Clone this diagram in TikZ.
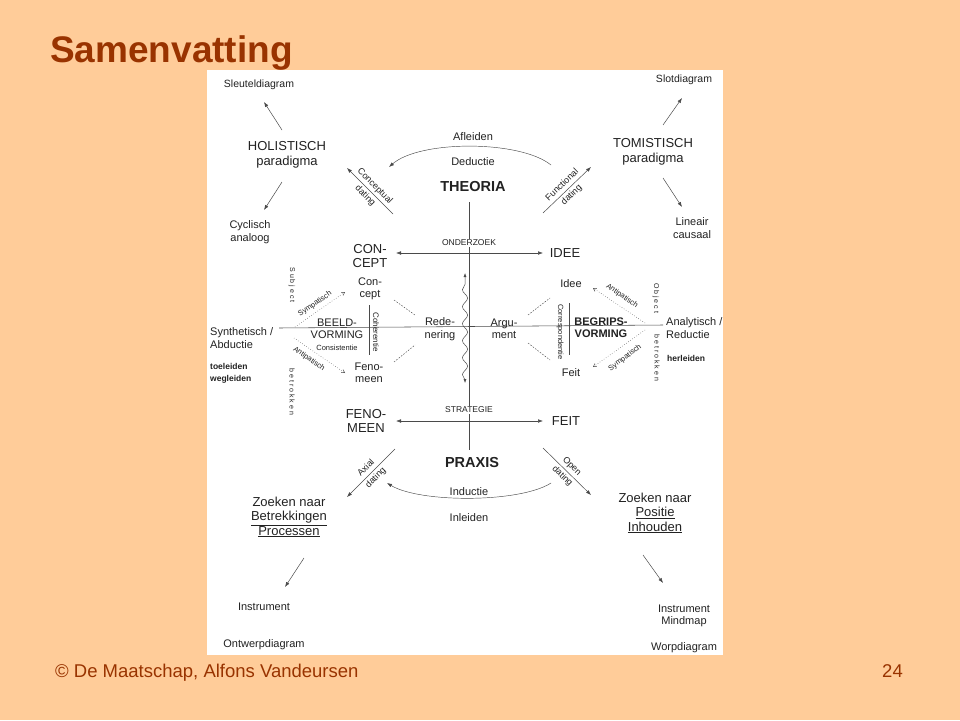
\documentclass[tikz,border=0pt]{standalone}
\usepackage{fontspec}
\setmainfont{Liberation Sans}
\usetikzlibrary{arrows.meta,decorations.pathmorphing}
\definecolor{slidebg}{HTML}{FFCC99}
\definecolor{titlecol}{HTML}{993300}
\definecolor{ink}{HTML}{222222}
\definecolor{lin}{HTML}{4A4A4A}
\newcommand\fsz[2]{\fontsize{#1}{#2}\selectfont}
\tikzset{
  t/.style={text=ink, align=center, inner sep=0pt, font=\fsz{11}{12.5}},
  tl/.style={text=ink, align=left, inner sep=0pt, font=\fsz{11}{12.5}},
  big/.style={t, font=\fsz{13}{14.5}},
  bold/.style={t, font=\bfseries\fsz{14.5}{16}},
  tiny/.style={t, font=\fsz{7.5}{9}},
  vert/.style={t, font=\fsz{7}{8}, rotate=-90},
  dlab/.style={t, font=\fsz{9}{13.5}, sloped},
  arr/.style={draw=lin, line width=0.5pt, -{Latex[length=5pt,width=3.6pt]}},
  darr/.style={draw=lin, line width=0.5pt, {Latex[length=5pt,width=3.6pt]}-{Latex[length=5pt,width=3.6pt]}},
  dotarr/.style={draw=lin, line width=0.5pt, dotted, -{Straight Barb[length=3pt,width=3.5pt]}},
  dashln/.style={draw=lin, line width=0.45pt, dash pattern=on 1.6pt off 1.4pt},
  plain/.style={draw=lin, line width=0.55pt},
}
\begin{document}
\begin{tikzpicture}[x=1pt,y=-1pt]
\fill[slidebg] (0,0) rectangle (960,720);
\useasboundingbox (0,0) rectangle (960,720);
% title and footer
\node[anchor=base west, inner sep=0pt, text=titlecol, font=\bfseries\fsz{37}{40}] (title) at (50,62) {Samenvatting};
\node[anchor=base west, inner sep=0pt, text=titlecol, font=\fsz{18.5}{20}] (foot) at (55,677) {© De Maatschap, Alfons Vandeursen};
\node[anchor=base east, inner sep=0pt, text=titlecol, font=\fsz{18.5}{20}] (pnum) at (903,677) {24};
% white sheet
\fill[white] (207,70) rectangle (723,655);
\begin{scope}
\clip (207,70) rectangle (723,655);
% ---------- top left
\node[t, font=\fsz{10.5}{12}] (sleutel) at (259,85) {Sleuteldiagram};
\node[big] (hol) at (287,155) {HOLISTISCH\\paradigma};
\node[t] (cyc) at (250,232) {Cyclisch\\analoog};
\coordinate (h1a) at (282,130); \coordinate (h1b) at (264,102);
\coordinate (h2a) at (282,182); \coordinate (h2b) at (264,210);
\draw[arr] (h1a) -- (h1b);
\draw[arr] (h2a) -- (h2b);
% ---------- top right
\node[t, font=\fsz{10.5}{12}] (slot) at (684,80) {Slotdiagram};
\node[big] (tom) at (653,152) {TOMISTISCH\\paradigma};
\node[t] (lin) at (692,228) {Lineair\\causaal};
\coordinate (t1a) at (663,125); \coordinate (t1b) at (682,98);
\coordinate (t2a) at (663,178); \coordinate (t2b) at (682,207);
\draw[arr] (t1a) -- (t1b);
\draw[arr] (t2a) -- (t2b);
% ---------- top arc
\node[t] (afl) at (473,137) {Afleiden};
\node[t] (ded) at (473,162) {Deductie};
\coordinate (arcTr) at (551,165); \coordinate (arcTl) at (389,167);
\draw[arr, line width=0.45pt] (arcTr) .. controls (520,140) and (420,140) .. (arcTl);
% dating lines top
\coordinate (cd1) at (393,214); \coordinate (cd2) at (347,168);
\draw[arr] (cd1) -- node[dlab] {Conceptual\\dating} (cd2);
\coordinate (fd1) at (543,213); \coordinate (fd2) at (591,167);
\draw[arr] (fd1) -- node[dlab] {Functional\\dating} (fd2);
% ---------- central axis
\node[bold] (theoria) at (473,187) {THEORIA};
\node[bold] (praxis) at (472,463) {PRAXIS};
\coordinate (vtop) at (469,202); \coordinate (vbot) at (469,450);
\draw[plain] (vtop) -- (vbot);
\node[big] (conc) at (370,256) {CON-\\CEPT};
\node[big] (ideeB) at (565,253) {IDEE};
\coordinate (oL) at (396,253); \coordinate (oR) at (543,253);
\draw[darr] (oL) -- (oR);
\node[t, font=\fsz{8.5}{10}, fill=white, inner sep=1pt] (onder) at (469,243) {ONDERZOEK};
\node[big] (fenoB) at (366,421) {FENO-\\MEEN};
\node[big] (feitB) at (566,421) {FEIT};
\coordinate (sL) at (396,421); \coordinate (sR) at (543,421);
\draw[darr] (sL) -- (sR);
\node[t, font=\fsz{8.5}{10}, fill=white, inner sep=1pt] (strat) at (469,410) {STRATEGIE};
% wavy line
\coordinate (wb) at (465,383); \coordinate (wt) at (465,273);
\draw[draw=lin, line width=0.5pt, {Latex[length=4pt,width=3pt]}-{Latex[length=4pt,width=3pt]},
  decorate, decoration={snake, amplitude=2.6pt, segment length=17pt, pre length=3pt, post length=3pt}] (wb) -- (wt);
% main horizontal
\coordinate (hL) at (279,328); \coordinate (hR) at (663,325);
\draw[plain] (hL) -- (hR);
% ---------- middle left
\node[tl, anchor=west] (synth) at (210,338) {Synthetisch /\\Abductie};
\node[tl, anchor=west, font=\bfseries\fsz{8.5}{12}] (toel) at (210,373) {toeleiden\\wegleiden};
\node[vert] (subj) at (292,285) {S u b j e c t};
\node[vert] (betrL) at (292,392) {b e t r o k k e n};
\coordinate (sy1) at (295,327); \coordinate (sy2) at (345,292);
\draw[dotarr] (sy1) -- (sy2);
\node[tiny, rotate=35] (sympL) at (315,304) {Sympatisch};
\coordinate (an1) at (294,338); \coordinate (an2) at (345,373);
\draw[dotarr] (an1) -- (an2);
\node[tiny, rotate=-35] (antiL) at (309,359) {Antipatisch};
\node[t] (concS) at (370,289) {Con-\\cept};
\node[t] (fenoS) at (369,373) {Feno-\\meen};
\node[t] (beeld) at (337,329) {BEELD-\\VORMING};
\node[tiny] (consis) at (337,348) {Consistentie};
\node[t, font=\fsz{8}{9}, rotate=-90] (coher) at (376,332) {Coherentie};
\coordinate (cl1) at (369,305); \coordinate (cl2) at (369,355);
\draw[plain, line width=0.45pt] (cl1) -- (cl2);
\coordinate (dl1) at (394,300); \coordinate (dl2) at (415,315);
\coordinate (dl3) at (394,362); \coordinate (dl4) at (415,345);
\draw[dashln] (dl1) -- (dl2);
\draw[dashln] (dl3) -- (dl4);
\node[t] (rede) at (440,329) {Rede-\\nering};
\node[t] (argu) at (504,329) {Argu-\\ment};
% ---------- middle right
\node[t] (ideeS) at (571,284) {Idee};
\node[t] (feitS) at (571,373) {Feit};
\coordinate (dr1) at (528,315); \coordinate (dr2) at (550,298);
\coordinate (dr3) at (528,343); \coordinate (dr4) at (550,360);
\draw[dashln] (dr1) -- (dr2);
\draw[dashln] (dr3) -- (dr4);
\node[t, font=\fsz{7.5}{9}, rotate=-90] (corr) at (560,332) {Correspondentie};
\coordinate (cr1) at (569,303); \coordinate (cr2) at (569,355);
\draw[plain, line width=0.45pt] (cr1) -- (cr2);
\node[t, font=\bfseries\fsz{11}{12}] (begr) at (601,328) {BEGRIPS-\\VORMING};
\coordinate (ar1) at (645,323); \coordinate (ar2) at (593,288);
\draw[dotarr] (ar1) -- (ar2);
\node[tiny, rotate=-35] (antiR) at (622,296) {Antipatisch};
\coordinate (sr1) at (645,330); \coordinate (sr2) at (593,367);
\draw[dotarr] (sr1) -- (sr2);
\node[tiny, rotate=37] (sympR) at (625,358) {Sympatisch};
\node[vert] (obj) at (656,298) {O b j e c t};
\node[vert] (betrR) at (657,358) {b e t r o k k e n};
\node[tl, anchor=west] (analyt) at (666,328) {Analytisch /\\Reductie};
\node[tl, anchor=west, font=\bfseries\fsz{8.5}{10}] (herl) at (667,358) {herleiden};
% ---------- bottom
\coordinate (ax1) at (395,449); \coordinate (ax2) at (347,497);
\draw[arr] (ax1) -- node[dlab] {Axial\\dating} (ax2);
\coordinate (od1) at (543,448); \coordinate (od2) at (591,495);
\draw[arr] (od1) -- node[dlab] {Open\\dating} (od2);
\coordinate (arcBr) at (551,483); \coordinate (arcBl) at (387,483);
\draw[arr, line width=0.45pt] (arcBr) .. controls (520,503) and (420,503) .. (arcBl);
\node[t] (induc) at (469,492) {Inductie};
\node[t] (inlei) at (469,518) {Inleiden};
\node[big] (zoekL) at (289,517) {Zoeken naar\\\underline{Betrekkingen}\\\underline{Processen}};
\coordinate (zl1) at (304,558); \coordinate (zl2) at (285,587);
\draw[arr] (zl1) -- (zl2);
\node[t] (instrL) at (264,607) {Instrument};
\node[t] (ontw) at (264,645) {Ontwerpdiagram};
\node[big] (zoekR) at (655,513) {Zoeken naar\\\underline{Positie}\\\underline{Inhouden}};
\coordinate (zr1) at (643,555); \coordinate (zr2) at (663,583);
\draw[arr] (zr1) -- (zr2);
\node[t] (instrR) at (684,616) {Instrument\\Mindmap};
\node[t] (worp) at (684,648) {Worpdiagram};
\end{scope}
\end{tikzpicture}
\end{document}
